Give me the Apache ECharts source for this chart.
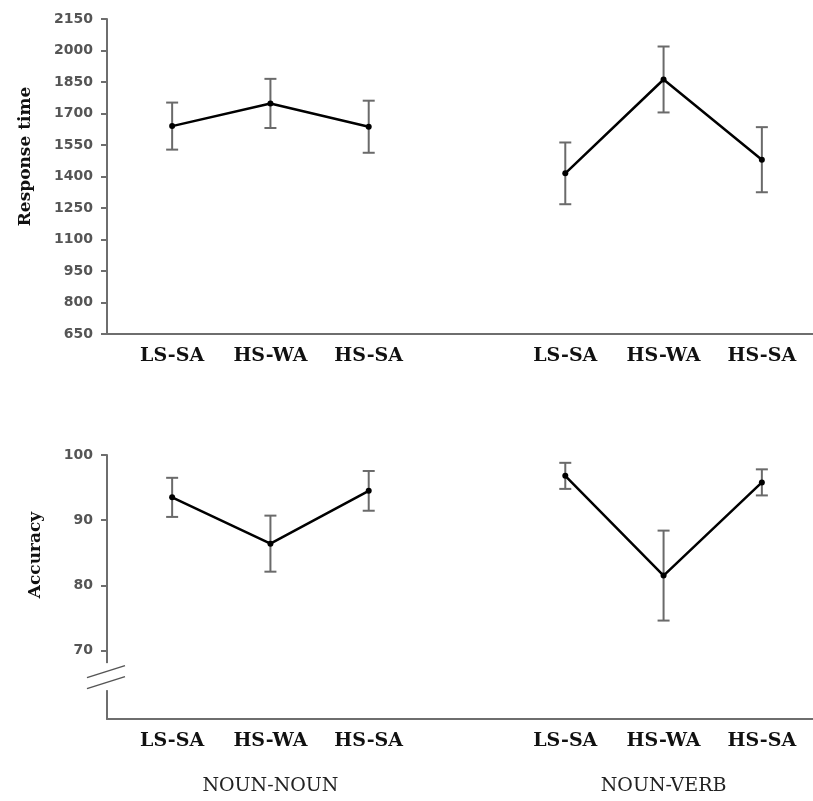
<!DOCTYPE html>
<html><head><meta charset="utf-8">
<script src="https://cdn.jsdelivr.net/npm/echarts@6/dist/echarts.min.js"></script>
<style>html,body{margin:0;padding:0;background:#fff}#c{width:813px;height:801px}</style>
</head><body><div id="c"></div>
<script>
// ---- data ----
const categories = ['LS-SA', 'HS-WA', 'HS-SA', '', 'LS-SA', 'HS-WA', 'HS-SA'];
const groups = ['NOUN-NOUN', 'NOUN-VERB'];
const rtTicks = [650, 800, 950, 1100, 1250, 1400, 1550, 1700, 1850, 2000, 2150];
const accTicks = [70, 80, 90, 100];
const rtMean = [1640, 1748, 1637, '-', 1415, 1862, 1480];
const rtErr  = [112, 117, 124, '-', 147, 157, 155];
const accMean = [93.5, 86.4, 94.5, '-', 96.8, 81.5, 95.8];
const accErr  = [3.0, 4.3, 3.05, '-', 2.0, 6.9, 2.0];
const rtRange = [650, 2150];
const accRange = [59.5, 100];

function errData(mean, err) {
  const out = [];
  mean.forEach((m, i) => { if (m !== '-') out.push([i, m - err[i], m + err[i]]); });
  return out;
}
function errRender(params, api) {
  const x = api.value(0), lo = api.value(1), hi = api.value(2);
  const p1 = api.coord([x, hi]), p2 = api.coord([x, lo]);
  const w = 6;
  const style = { stroke: '#6a6a6a', lineWidth: 2 };
  return { type: 'group', children: [
    { type: 'line', shape: { x1: p1[0], y1: p1[1], x2: p2[0], y2: p2[1] }, style: style },
    { type: 'line', shape: { x1: p1[0] - w, y1: p1[1], x2: p1[0] + w, y2: p1[1] }, style: style },
    { type: 'line', shape: { x1: p2[0] - w, y1: p2[1], x2: p2[0] + w, y2: p2[1] }, style: style }
  ]};
}

const axisCol = '#6e6e6e';
const catLabel = { interval: 0, margin: 13, fontFamily: 'DejaVu Serif', fontWeight: 'bold', fontSize: 19, color: '#111' };
const tickLabel = { fontFamily: 'DejaVu Sans', fontWeight: 'bold', fontSize: 14, color: '#555', margin: 14,
  formatter: v => String(v) };
const nameStyle = { fontFamily: 'DejaVu Serif', fontWeight: 'bold', fontSize: 17, color: '#111' };

function frameX(gi) {
  return { gridIndex: gi, type: 'value', min: 0, max: 1,
    axisLine: { show: true, lineStyle: { color: axisCol, width: 2 } },
    axisTick: { show: false }, axisLabel: { show: false }, splitLine: { show: false } };
}
function catX(gi) {
  return { gridIndex: gi, type: 'category', data: categories, boundaryGap: true,
    axisLine: { show: false }, axisTick: { show: false }, splitLine: { show: false },
    axisLabel: catLabel };
}
function frameY(gi, range, ticks, name, gap, pad) {
  return { gridIndex: gi, type: 'value', min: range[0], max: range[1],
    axisLine: { show: true, lineStyle: { color: axisCol, width: 2 } },
    axisTick: { show: true, length: 6, customValues: ticks, lineStyle: { color: axisCol, width: 2 } },
    axisLabel: Object.assign({ customValues: ticks }, tickLabel),
    splitLine: { show: false },
    name: name, nameLocation: 'middle', nameRotate: 90, nameGap: gap,
    nameTextStyle: Object.assign({ padding: [0, 0, 0, pad] }, nameStyle) };
}
function hiddenY(gi, range) {
  return { gridIndex: gi, type: 'value', min: range[0], max: range[1], show: false, splitLine: { show: false } };
}
const lineStyleSeries = (xi, yi, data) => ({
  type: 'line', xAxisIndex: xi, yAxisIndex: yi, data: data, connectNulls: false,
  symbol: 'circle', symbolSize: 6, z: 5,
  lineStyle: { color: '#000', width: 2.5 }, itemStyle: { color: '#000' }
});

const chart = echarts.init(document.getElementById('c'), null, { renderer: 'canvas' });
chart.setOption({
  animation: false,
  backgroundColor: '#fff',
  grid: [
    { left: 107, right: 0, top: 19, height: 315 },
    { left: 123, right: 2, top: 19, height: 315 },
    { left: 107, right: 0, top: 455, height: 264 },
    { left: 123, right: 2, top: 455, height: 264 }
  ],
  xAxis: [
    frameX(0), catX(1), frameX(2), catX(3),
    { gridIndex: 3, type: 'category', data: categories, position: 'bottom', offset: 44,
      axisLine: { show: false }, axisTick: { show: false }, splitLine: { show: false },
      axisLabel: { interval: 0, margin: 14, fontFamily: 'DejaVu Serif', fontSize: 19, color: '#222',
        formatter: (v, i) => i === 1 ? groups[0] : (i === 5 ? groups[1] : '') } }
  ],
  yAxis: [
    frameY(0, rtRange, rtTicks, 'Response time', 73, 40),
    hiddenY(1, rtRange),
    frameY(2, accRange, accTicks, 'Accuracy', 63, 64),
    hiddenY(3, accRange)
  ],
  series: [
    { type: 'custom', xAxisIndex: 1, yAxisIndex: 1, renderItem: errRender, data: errData(rtMean, rtErr), z: 3 },
    lineStyleSeries(1, 1, rtMean),
    { type: 'custom', xAxisIndex: 3, yAxisIndex: 3, renderItem: errRender, data: errData(accMean, accErr), z: 3 },
    lineStyleSeries(3, 3, accMean)
  ]
});

// axis break decoration on the accuracy axis
const c = chart.convertToPixel({ xAxisIndex: 2, yAxisIndex: 2 }, [0, 66]);
chart.setOption({ graphic: [
  { type: 'rect', shape: { x: c[0] - 6, y: c[1] - 13.5, width: 12, height: 27 }, style: { fill: '#fff' }, z: 100 },
  { type: 'line', shape: { x1: c[0] - 20, y1: c[1] + 1, x2: c[0] + 18, y2: c[1] - 11 }, style: { stroke: '#555', lineWidth: 1.5 }, z: 101 },
  { type: 'line', shape: { x1: c[0] - 20, y1: c[1] + 12, x2: c[0] + 18, y2: c[1] }, style: { stroke: '#555', lineWidth: 1.5 }, z: 101 }
]});
</script>
</body></html>
